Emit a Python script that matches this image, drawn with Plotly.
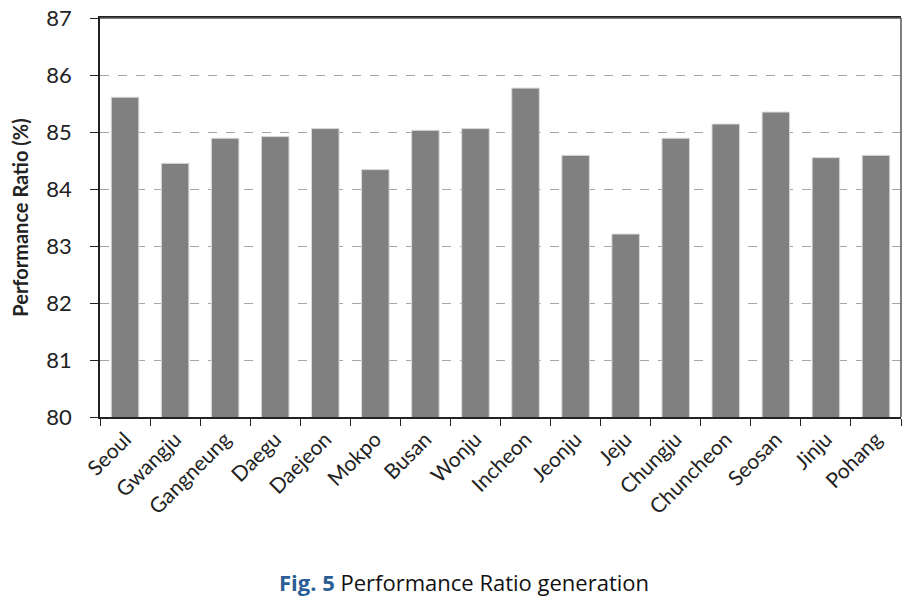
import plotly.graph_objects as go

cities = ["Seoul", "Gwangju", "Gangneung", "Daegu", "Daejeon", "Mokpo", "Busan", "Wonju",
          "Incheon", "Jeonju", "Jeju", "Chungju", "Chuncheon", "Seosan", "Jinju", "Pohang"]
pr_values = [85.61, 84.45, 84.89, 84.92, 85.06, 84.34, 85.03, 85.06,
             85.77, 84.59, 83.21, 84.89, 85.14, 85.35, 84.55, 84.59]
y_ticks = [80, 81, 82, 83, 84, 85, 86, 87]

fig = go.Figure()
fig.add_trace(go.Bar(
    x=cities, y=pr_values,
    marker=dict(color="#808080", line=dict(color="#d9d9d9", width=1)),
    width=0.55,
))

font_main = "Lato, Carlito, 'Open Sans', sans-serif"

fig.update_layout(
    width=921, height=601,
    margin=dict(l=100, r=20, t=18, b=184, autoexpand=False),
    paper_bgcolor="white", plot_bgcolor="white",
    showlegend=False,
    font=dict(family=font_main, color="#222"),
    xaxis=dict(
        type="category",
        automargin=False,
        tickangle=-45,
        tickfont=dict(size=21, color="#222", family=font_main),
        ticks="outside", ticklen=7, tickcolor="#222",
        tickson="boundaries",
        showline=True, linecolor="#222", linewidth=1.5, mirror=True,
        showgrid=False,
    ),
    yaxis=dict(
        automargin=False,
        range=[80, 87],
        tickvals=y_ticks,
        tickfont=dict(size=22, color="#222", family=font_main),
        ticklabeloverflow="allow",
        ticks="outside", ticklen=8, tickcolor="#222",
        ticklabelstandoff=14,
        showline=True, linecolor="#222", linewidth=1.5, mirror=False,
        showgrid=True, gridcolor="#a6a6a6", griddash="dash", gridwidth=1,
        zeroline=False,
        title=dict(text="<b>Performance Ratio (%)</b>",
                   font=dict(size=20, color="#222", family=font_main), standoff=12),
    ),
    bargap=0.45,
)

# top and right frame lines (slightly lighter than the left axis)
fig.add_shape(type="line", xref="paper", yref="paper", x0=0, x1=1, y0=1, y1=1,
              line=dict(color="#555", width=1.5), layer="above")
fig.add_shape(type="line", xref="paper", yref="paper", x0=1, x1=1, y0=0, y1=1,
              line=dict(color="#555", width=1.5), layer="above")

fig.add_annotation(
    xref="paper", yref="paper", x=0.454, y=-0.413, xanchor="center", yanchor="middle",
    showarrow=False,
    text=("<span style='color:#2c5d95;font-size:22px'><b>Fig. 5</b></span>"
          "<span style='font-size:22px;color:#111'> Performance Ratio generation</span>"),
    font=dict(family="'Open Sans', 'Noto Sans', sans-serif"),
)

fig.write_html("out.html", config={"displayModeBar": False},
               post_script="document.body.style.margin='0';document.body.style.overflow='hidden';")
